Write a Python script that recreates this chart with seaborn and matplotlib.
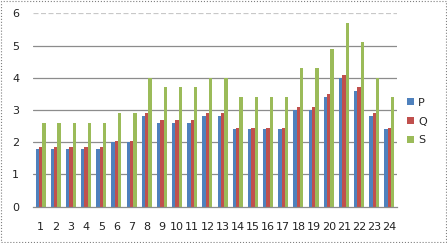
import matplotlib
matplotlib.use("Agg")
import matplotlib.pyplot as plt
import seaborn as sns
import pandas as pd
import numpy as np
from matplotlib.patches import Rectangle

categories = [str(i) for i in range(1, 25)]
P = [1.8, 1.8, 1.8, 1.8, 1.8, 2.0, 2.0, 2.8, 2.6, 2.6, 2.6, 2.8, 2.8, 2.4, 2.4, 2.4, 2.4, 3.0, 3.0, 3.4, 4.0, 3.6, 2.8, 2.4]
Q = [1.85, 1.85, 1.85, 1.85, 1.85, 2.05, 2.05, 2.9, 2.7, 2.7, 2.7, 2.9, 2.9, 2.45, 2.45, 2.45, 2.45, 3.1, 3.1, 3.5, 4.1, 3.7, 2.9, 2.45]
S = [2.6, 2.6, 2.6, 2.6, 2.6, 2.9, 2.9, 4.0, 3.7, 3.7, 3.7, 4.0, 4.0, 3.4, 3.4, 3.4, 3.4, 4.3, 4.3, 4.9, 5.7, 5.1, 4.0, 3.4]
series = ["P", "Q", "S"]
yticks = [0, 1, 2, 3, 4, 5, 6]

df = pd.DataFrame({
    "cat": categories * 3,
    "series": ["P"] * 24 + ["Q"] * 24 + ["S"] * 24,
    "value": P + Q + S,
})

sns.set_style("white")
plt.rcParams["font.family"] = ["DejaVu Sans"]

fig = plt.figure(figsize=(4.47, 2.43), dpi=100)
ax = fig.add_axes([33 / 447, 1 - 206.7 / 243, (397 - 33) / 447, (206.7 - 13.3) / 243])

palette = {"P": "#4F81BD", "Q": "#C0504D", "S": "#9BBB59"}
sns.barplot(data=df, x="cat", y="value", hue="series", order=categories,
            hue_order=series, palette=palette, width=0.66, ax=ax,
            saturation=1, linewidth=0, legend=True)

ax.set_ylim(0, 6)
ax.set_xlim(-0.5, 23.5)
ax.set_yticks(yticks)
for y in yticks[1:-1]:
    ax.axhline(y, color="#8c8c8c", lw=0.9, zorder=0)
ax.axhline(6, color="#c8c8c8", lw=0.9, ls=(0, (4, 2)), zorder=0)

for s in ["top", "right", "left"]:
    ax.spines[s].set_visible(False)
ax.spines["bottom"].set_color("#8c8c8c")
ax.spines["bottom"].set_linewidth(0.9)

ax.set_xlabel("")
ax.set_ylabel("")
ax.tick_params(axis="x", length=0, labelsize=8, pad=11, colors="#222222")
ax.tick_params(axis="y", length=0, labelsize=8, pad=10, colors="#222222")
ax.set_xticks(np.arange(-0.5, 24, 1), minor=True)
ax.tick_params(axis="x", which="minor", length=3, color="#8c8c8c", width=0.8)

leg = ax.legend(loc="center left", bbox_to_anchor=(1.0, 0.44), frameon=False,
                fontsize=8, handlelength=0.6, handleheight=0.6, handletextpad=0.4,
                labelspacing=0.8)

fig.patches.append(Rectangle((0.002, 0.004), 0.995, 0.992, transform=fig.transFigure,
                             fill=False, edgecolor="#7f7f7f", lw=0.8, ls=":"))

fig.savefig("out.png", dpi=100)
